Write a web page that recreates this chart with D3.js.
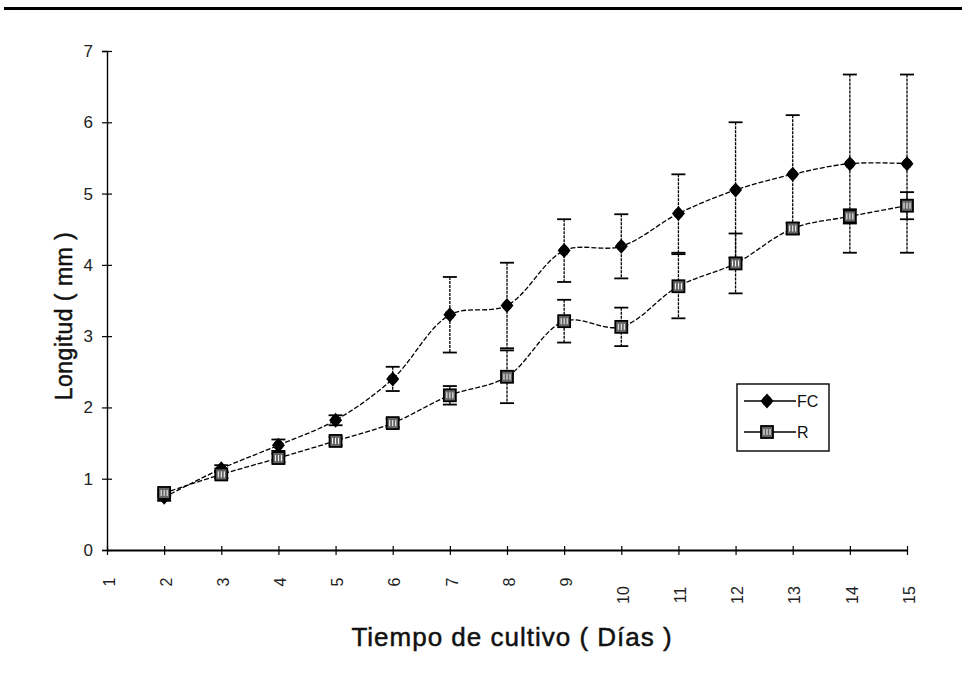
<!DOCTYPE html>
<html><head><meta charset="utf-8">
<script src="https://cdn.jsdelivr.net/npm/d3@7"></script>
<style>
body{margin:0;background:#fff;}
svg{display:block;font-family:"Liberation Sans",Arial,sans-serif;}
</style></head>
<body><svg id="c" width="965" height="683"></svg>
<script>
const days = [2,3,4,5,6,7,8,9,10,11,12,13,14,15];
const tickDays = [1,2,3,4,5,6,7,8,9,10,11,12,13,14,15];
const fcValues = [0.74,1.14,1.47,1.82,2.40,3.30,3.43,4.20,4.26,4.72,5.05,5.27,5.42,5.42];
const fcErrors = [0.05,0.05,0.08,0.07,0.17,0.53,0.60,0.44,0.45,0.55,0.95,0.83,1.25,1.25];
const rValues  = [0.80,1.06,1.29,1.53,1.78,2.17,2.43,3.21,3.13,3.70,4.02,4.51,4.68,4.83];
const rErrors  = [0.04,0.05,0.06,0.06,0.06,0.13,0.37,0.30,0.27,0.45,0.42,0.08,0.10,0.19];
const yTicks = [0,1,2,3,4,5,6,7];
const seriesNames = ["FC","R"];

const svg = d3.select("#c");
const x = d3.scaleLinear().domain([1,15]).range([107,907]);
const y = d3.scaleLinear().domain([0,7]).range([550,51]);

// top rule
svg.append("rect").attr("x",4).attr("y",7).attr("width",958).attr("height",3).attr("fill","#000");

// y axis
const ya = svg.append("g").attr("transform","translate(107,0)")
  .call(d3.axisLeft(y).tickValues(yTicks).tickFormat(d3.format("d")).tickSize(5).tickPadding(9));
ya.attr("font-size",17).attr("font-family","Liberation Sans, Arial, sans-serif");
ya.select(".domain").attr("stroke","#000").attr("stroke-width",1.4);
ya.selectAll(".tick line").attr("x1",5).attr("x2",-5).attr("stroke-width",1.2);
ya.selectAll(".tick text").attr("fill","#222");

// x axis
const xa = svg.append("g").attr("transform","translate(0,550)")
  .call(d3.axisBottom(x).tickValues(tickDays).tickFormat(d3.format("d")).tickSize(5).tickSizeOuter(0));
xa.attr("font-size",16).attr("font-family","Liberation Sans, Arial, sans-serif");
xa.select(".domain").attr("stroke","#000").attr("stroke-width",2.2);
xa.selectAll(".tick line").attr("y1",-4).attr("y2",5).attr("stroke-width",1.2);
xa.selectAll(".tick text")
  .attr("fill","#222")
  .attr("text-anchor","middle").attr("dy",null)
  .attr("transform",d=>`translate(3,${d>=10?45:32}) rotate(-90)`)
  .attr("y",0).attr("dominant-baseline","middle");

// axis titles
svg.append("text").attr("x",512).attr("y",646).attr("text-anchor","middle")
  .attr("font-size",26).attr("letter-spacing",1).attr("fill","#111").attr("stroke","#111").attr("stroke-width",0.5)
  .text("Tiempo de cultivo ( Días )");
svg.append("text").attr("transform","translate(72,316) rotate(-90)").attr("text-anchor","middle")
  .attr("font-size",23).attr("letter-spacing",0.5).attr("fill","#111").attr("stroke","#111").attr("stroke-width",0.5)
  .text("Longitud ( mm )");

const line = d3.line().x(d=>x(d[0])).y(d=>y(d[1])).curve(d3.curveCatmullRom.alpha(0.5));
const series = [
  {name:"FC", vals:fcValues, errs:fcErrors},
  {name:"R", vals:rValues, errs:rErrors}
];

series.forEach(s=>{
  const pts = days.map((d,i)=>[d,s.vals[i]]);
  svg.append("path").attr("d",line(pts)).attr("fill","none").attr("stroke","#000")
    .attr("stroke-width",1.3).attr("stroke-dasharray","5,2");
  const g = svg.append("g");
  days.forEach((d,i)=>{
    const cx = x(d), v=s.vals[i], e=s.errs[i];
    g.append("line").attr("x1",cx).attr("x2",cx).attr("y1",y(v+e)).attr("y2",y(v-e))
      .attr("stroke","#000").attr("stroke-width",1.3).attr("stroke-dasharray","3,1");
    [v+e,v-e].forEach(t=>g.append("line").attr("x1",cx-7).attr("x2",cx+7).attr("y1",y(t)).attr("y2",y(t))
      .attr("stroke","#000").attr("stroke-width",1.8));
  });
});

function marker(g,name,cx,cy){
  if(name==="FC"){
    g.append("path").attr("d",`M${cx},${cy-7.5}L${cx+6.5},${cy}L${cx},${cy+7.5}L${cx-6.5},${cy}Z`).attr("fill","#000");
    g.append("circle").attr("cx",cx).attr("cy",cy).attr("r",5).attr("fill","#000");
  } else {
    g.append("rect").attr("x",cx-6).attr("y",cy-6).attr("width",12).attr("height",12)
      .attr("fill","#666").attr("stroke","#000").attr("stroke-width",1.8);
    g.append("path").attr("d",`M${cx-3},${cy-3}V${cy+3}M${cx},${cy-3}V${cy+3}M${cx+3},${cy-3}V${cy+3}`)
      .attr("stroke","#fff").attr("stroke-width",1);
  }
}
series.forEach(s=>{
  const g = svg.append("g");
  days.forEach((d,i)=>marker(g,s.name,x(d),y(s.vals[i])));
});

// legend
const lg = svg.append("g");
lg.append("rect").attr("x",737).attr("y",384).attr("width",92).attr("height",67)
  .attr("fill","#fff").attr("stroke","#000").attr("stroke-width",1.4);
seriesNames.forEach((n,i)=>{
  const cy = 401 + i*31;
  lg.append("line").attr("x1",744).attr("x2",796).attr("y1",cy).attr("y2",cy).attr("stroke","#000").attr("stroke-width",1.3);
  marker(lg,n,767,cy);
  lg.append("text").attr("x",797).attr("y",cy).attr("dy","0.36em").attr("font-size",16).attr("fill","#111").text(n);
});
</script></body></html>
